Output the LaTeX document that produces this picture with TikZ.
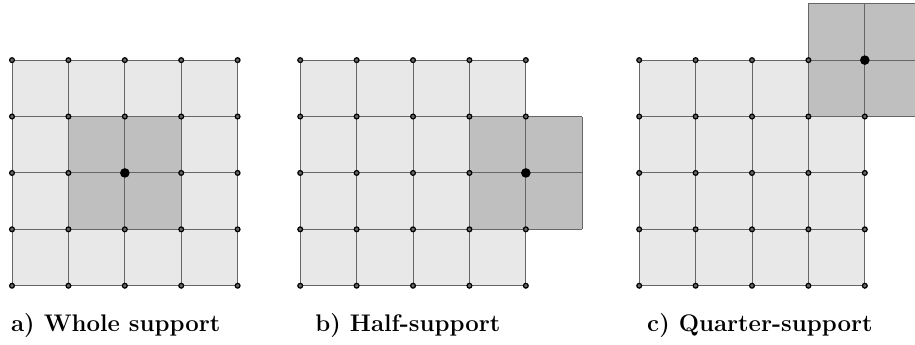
\documentclass[tikz,border=0pt]{standalone}
\usepackage{tikz}
\definecolor{celllight}{gray}{0.91}
\definecolor{celldark}{gray}{0.75}
\tikzset{
  gridline/.style={draw=black!60,line width=0.5pt},
  knot/.style={circle,draw=black,fill=black!60,line width=0.6pt,inner sep=0pt,minimum size=2.4pt},
  centreknot/.style={circle,fill=black,inner sep=0pt,minimum size=4.8pt},
  caption/.style={font=\large\bfseries,anchor=base}
}
\begin{document}
\begin{tikzpicture}[scale=0.991]
  \useasboundingbox (-0.213,-1.034) rectangle (16.01,5.066);
  \clip (-0.213,-1.034) rectangle (16.01,5.066);
  % a) whole support
  \begin{scope}
    \fill[celllight] (0,0) rectangle (4,4);
    \fill[celldark] (1,1) rectangle (3,3);
    \draw[gridline] (0,0) grid (4,4);
    \foreach \i in {0,...,4}
      \foreach \j in {0,...,4}
        \node[knot] (a-\i-\j) at (\i,\j) {};
    \node[centreknot] (acentre) at (2,2) {};
  \end{scope}
  % b) half-support
  \begin{scope}[shift={(5.11,0)}]
    \fill[celllight] (0,0) rectangle (4,4);
    \fill[celldark] (3,1) rectangle (5,3);
    \draw[gridline] (0,0) grid (4,4);
    \draw[gridline] (3,1) grid (5,3);
    \foreach \i in {0,...,4}
      \foreach \j in {0,...,4}
        \node[knot] (b-\i-\j) at (\i,\j) {};
    \node[centreknot] (bcentre) at (4,2) {};
  \end{scope}
  % c) quarter-support
  \begin{scope}[shift={(11.12,0)}]
    \fill[celllight] (0,0) rectangle (4,4);
    \fill[celldark] (3,3) rectangle (5,5);
    \draw[gridline] (0,0) grid (4,4);
    \draw[gridline] (3,3) grid (5,5);
    \foreach \i in {0,...,4}
      \foreach \j in {0,...,4}
        \node[knot] (c-\i-\j) at (\i,\j) {};
    \node[centreknot] (ccentre) at (4,4) {};
  \end{scope}
  \node[caption] (capa) at (1.84,-0.816) {a) Whole support};
  \node[caption] (capb) at (7.02,-0.816) {b) Half-support};
  \node[caption] (capc) at (13.26,-0.816) {c) Quarter-support};
\end{tikzpicture}
\end{document}
